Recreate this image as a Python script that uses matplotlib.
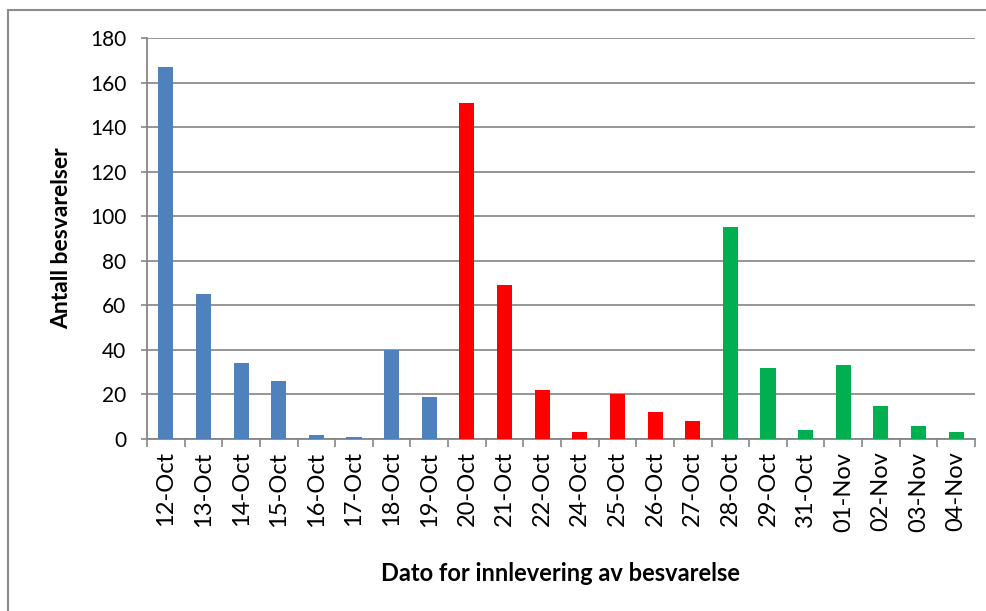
import matplotlib.pyplot as plt
from matplotlib.patches import Rectangle

plt.rcParams["font.family"] = ["Lato", "DejaVu Sans"]

dates = ["12-Oct", "13-Oct", "14-Oct", "15-Oct", "16-Oct", "17-Oct", "18-Oct", "19-Oct",
         "20-Oct", "21-Oct", "22-Oct", "24-Oct", "25-Oct", "26-Oct", "27-Oct",
         "28-Oct", "29-Oct", "31-Oct", "01-Nov", "02-Nov", "03-Nov", "04-Nov"]
counts = [167, 65, 34, 26, 2, 1, 40, 19,
          151, 69, 22, 3, 20, 12, 8,
          95, 32, 4, 33, 15, 6, 3]
groups = [0] * 8 + [1] * 7 + [2] * 7
group_colors = ["#4F81BD", "#FF0000", "#00B050"]

fig = plt.figure(figsize=(9.87, 6.11), dpi=100)
ax = fig.add_axes([147 / 987, 1 - 439 / 611, 828 / 987, 401 / 611])

x = list(range(len(dates)))
ax.bar(x, counts, width=0.4, color=[group_colors[g] for g in groups], zorder=3)

ax.set_xlim(-0.5, len(dates) - 0.5)
ax.set_ylim(0, 180)
ax.set_yticks(range(0, 181, 20))
ax.set_xticks(x)
ax.set_xticklabels(dates, rotation=90, fontsize=17)
ax.tick_params(axis="x", length=0, pad=9)
ax.set_xticks([i - 0.5 for i in range(len(dates) + 1)], minor=True)
ax.tick_params(axis="x", which="minor", length=6, color="#868686", width=1.2)
ax.tick_params(axis="y", labelsize=15, length=4, color="#868686", width=1.2, pad=11)
ax.grid(axis="y", color="#8C8C8C", linewidth=1.3, zorder=0)

for side in ["top", "right"]:
    ax.spines[side].set_visible(False)
for side in ["left", "bottom"]:
    ax.spines[side].set_color("#868686")
    ax.spines[side].set_linewidth(1.3)

ax.set_ylabel("Antall besvarelser", fontsize=16.5, fontweight="bold", labelpad=13)
ax.set_xlabel("Dato for innlevering av besvarelse", fontsize=17, fontweight="bold", labelpad=22)

fig.patches.append(Rectangle((8 / 987, -0.1), 1.2, 1.1 - 10 / 611, transform=fig.transFigure,
                             fill=False, edgecolor="#8C8C8C", linewidth=1.5))

fig.savefig("out.png", dpi=100)
